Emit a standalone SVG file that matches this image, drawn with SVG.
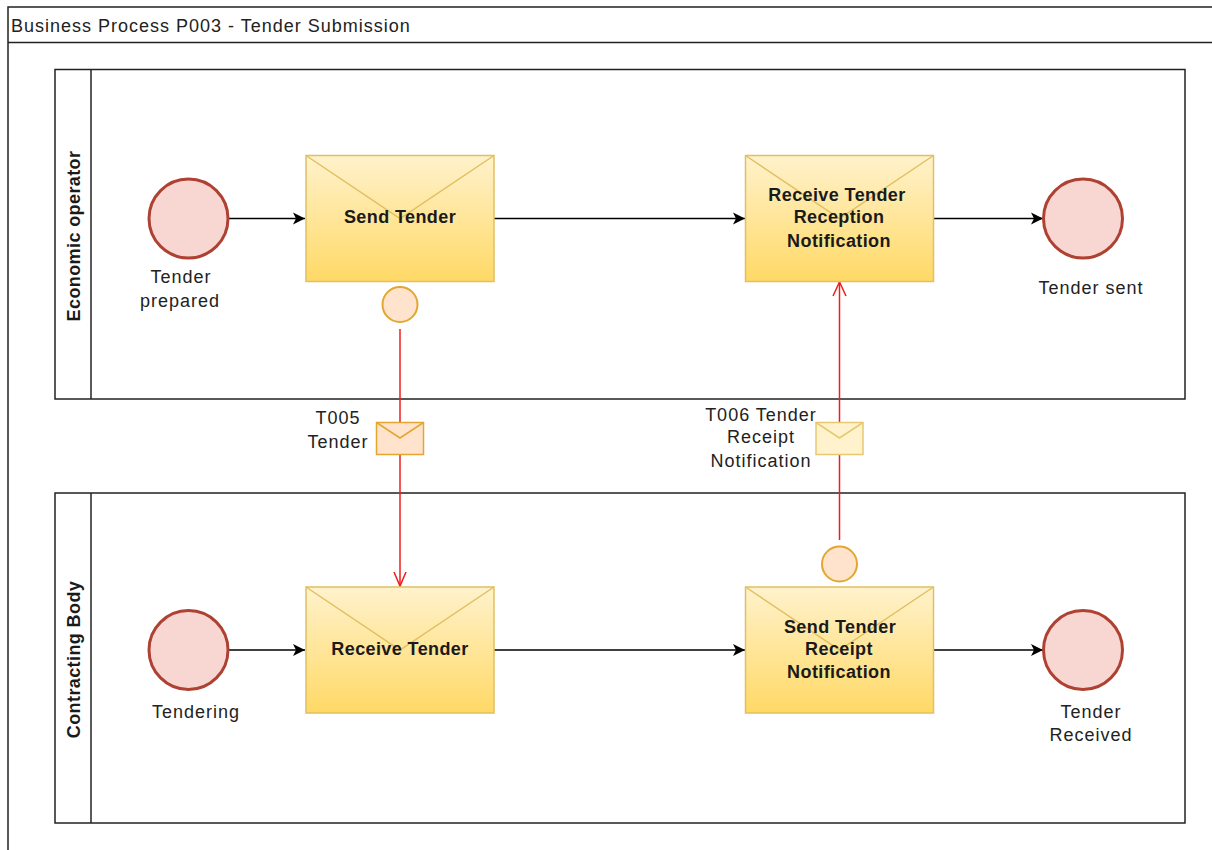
<svg xmlns="http://www.w3.org/2000/svg" width="1212" height="850" viewBox="0 0 1212 850">
<style>
text{font-family:"Liberation Sans",Arial,sans-serif;font-size:18px;fill:#222;text-anchor:middle;letter-spacing:1px}
.b{font-weight:bold;letter-spacing:.4px;fill:#1a1a1a}
.frame{fill:none;stroke:#222;stroke-width:1.5}
.task{fill:url(#g);stroke:#e0c060;stroke-width:1.5}
.flap{fill:none;stroke:#e0c060;stroke-width:1.5}
.ev{fill:#f8d7d3;stroke:#ae4132;stroke-width:3}
.dot{fill:#ffe3cc;stroke:#e3a72f;stroke-width:2}
.seq{fill:none;stroke:#000;stroke-width:1.5;marker-end:url(#ah)}
.msg{fill:none;stroke:#f01c1c;stroke-width:1.5}
.open{fill:none;stroke:#f01c1c;stroke-width:1.5}
</style>
<defs>
<linearGradient id="g" x1="0" y1="0" x2="0" y2="1"><stop offset="0" stop-color="#fff2cc"/><stop offset="1" stop-color="#ffd966"/></linearGradient>
<marker id="ah" markerUnits="userSpaceOnUse" markerWidth="14" markerHeight="14" refX="12" refY="7" orient="auto"><path d="M0,1 L12,7 L0,13 L3,7 Z" fill="#000"/></marker>
</defs>
<rect width="1212" height="850" fill="#fff"/>
<g id="pool">
<path class="frame" d="M8,850 V7 H1212 M8,42.500 H1212"/>
<text x="11" y="32" style="text-anchor:start">Business Process P003 - Tender Submission</text>
</g>
<g id="lane-economic">
<rect class="frame" x="55" y="69.500" width="1130" height="329.500"/><path class="frame" d="M91,69.500 V399"/>
<text class="b" transform="translate(80,236) rotate(-90)">Economic operator</text>
</g>
<g id="lane-contracting">
<rect class="frame" x="55" y="493" width="1130" height="330"/><path class="frame" d="M91,493 V823"/>
<text class="b" transform="translate(80,659.500) rotate(-90)">Contracting Body</text>
</g>
<g id="connectors">
<path class="seq" d="M228,218.500 H305"/>
<path class="seq" d="M494,218.500 H745"/>
<path class="seq" d="M933,218.500 H1043"/>
<path class="seq" d="M228,650 H305"/>
<path class="seq" d="M494,650 H745"/>
<path class="seq" d="M933,650 H1043"/>
<path class="msg" d="M400,329 V586"/>
<path class="open" d="M394,572 L400,586 L406,572"/>
<path class="msg" d="M839.500,540 V282"/>
<path class="open" d="M833,296 L839.500,282 L846,296"/>
</g>
<g id="start-1"><circle class="ev" cx="188.500" cy="218.500" r="39.500"/><text x="181" y="283">Tender</text><text x="180" y="307">prepared</text></g>
<g id="task-send-tender"><rect class="task" x="306" y="155.500" width="188" height="126"/><path class="flap" d="M306,155.500 L400,218.500 L494,155.500"/><text class="b" x="400" y="223">Send Tender</text></g>
<g id="dot-1"><circle class="dot" cx="400" cy="304.500" r="17.500"/></g>
<g id="task-receive-notification"><rect class="task" x="745.500" y="155.500" width="188" height="126"/><path class="flap" d="M745.500,155.500 L839.500,218.500 L933.500,155.500"/><text class="b" x="837" y="201">Receive Tender</text><text class="b" x="839" y="223">Reception</text><text class="b" x="839" y="246.500">Notification</text></g>
<g id="end-1"><circle class="ev" cx="1083" cy="218.500" r="39.500"/><text x="1091" y="294">Tender sent</text></g>
<g id="msg-t005"><rect x="376.500" y="422.500" width="47" height="32" fill="#ffe3cc" stroke="#e3a72f" stroke-width="1.500"/><path d="M376.500,422.500 L400,438 L423.500,422.500" fill="none" stroke="#e3a72f" stroke-width="1.500"/><text x="338" y="424">T005</text><text x="338" y="448">Tender</text></g>
<g id="msg-t006"><rect x="816" y="422.500" width="47" height="32" fill="#fff2cc" stroke="#e8c870" stroke-width="1.500"/><path d="M816,422.500 L839.500,438 L863,422.500" fill="none" stroke="#e8c870" stroke-width="1.500"/><text x="761" y="421">T006 Tender</text><text x="761" y="443">Receipt</text><text x="761" y="466.500">Notification</text></g>
<g id="start-2"><circle class="ev" cx="188.500" cy="650" r="39.500"/><text x="196" y="718">Tendering</text></g>
<g id="task-receive-tender"><rect class="task" x="306" y="587" width="188" height="126"/><path class="flap" d="M306,587 L400,650 L494,587"/><text class="b" x="400" y="655">Receive Tender</text></g>
<g id="dot-2"><circle class="dot" cx="839.500" cy="564" r="17.500"/></g>
<g id="task-send-notification"><rect class="task" x="745.500" y="587" width="188" height="126"/><path class="flap" d="M745.500,587 L839.500,650 L933.500,587"/><text class="b" x="840" y="633">Send Tender</text><text class="b" x="839" y="655">Receipt</text><text class="b" x="839" y="678">Notification</text></g>
<g id="end-2"><circle class="ev" cx="1083" cy="650" r="39.500"/><text x="1091" y="718">Tender</text><text x="1091" y="741">Received</text></g>
</svg>
